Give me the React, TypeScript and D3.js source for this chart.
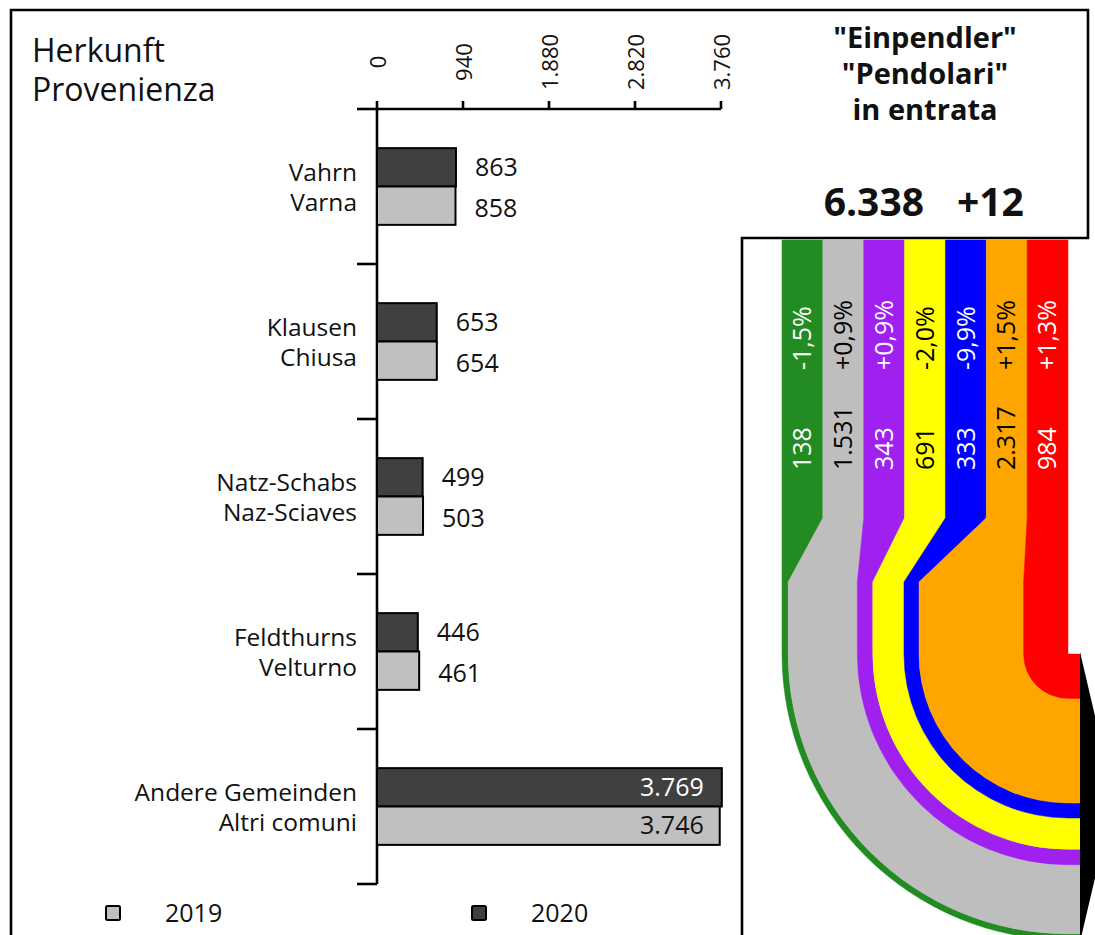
import React from "react";
import * as d3 from "d3";

// ---------- data ----------
const categoriesDE = ["Vahrn", "Klausen", "Natz-Schabs", "Feldthurns", "Andere Gemeinden"];
const categoriesIT = ["Varna", "Chiusa", "Naz-Sciaves", "Velturno", "Altri comuni"];
const values2020 = [863, 653, 499, 446, 3769];
const values2019 = [858, 654, 503, 461, 3746];
const axisTicks = [0, 940, 1880, 2820, 3760];

const flowKeys = ["g", "gr", "p", "y", "b", "o", "r"];
const flowValues = [138, 1531, 343, 691, 333, 2317, 984];
const flowPct = ["-1,5%", "+0,9%", "+0,9%", "-2,0%", "-9,9%", "+1,5%", "+1,3%"];
const flowColors = ["#228B22", "#BEBEBE", "#A020F0", "#FFFF00", "#0000FF", "#FFA500", "#FF0000"];
const flowTextColors = ["#fff", "#000", "#fff", "#000", "#fff", "#000", "#fff"];
const totalLabel = "6.338";
const changeLabel = "+12";

const locale = d3.formatLocale({ decimal: ",", thousands: ".", grouping: [3], currency: ["", "€"] });
const fmt = locale.format(",d");

const FONT = "'Open Sans', 'Noto Sans', sans-serif";

export default function App() {
  const W = 1095, H = 935;

  // left bar chart
  const x = d3.scaleLinear().domain([0, 3760]).range([377, 721]);
  const yBand = d3.scaleBand<number>().domain(d3.range(categoriesDE.length)).range([109, 884]);
  const sub = d3.scaleBand<string>().domain(["2020", "2019"]).range([0, yBand.bandwidth()]).paddingOuter(1.02);

  // flow
  const left = 782, right = 1068;
  const topBand = d3.scaleBand<string>().domain(flowKeys).range([left, right]);
  const total = d3.sum(flowValues);
  const k = d3.scaleLinear().domain([0, total]).range([left, right]);
  const cum = d3.cumsum(flowValues);
  const yTop = 240, yK1 = 518, yK2 = 582, yArc = 654, cx = right, xEnd = 1080;

  const flowPaths = flowValues.map((v, i) => {
    const x0 = k(cum[i] - v);
    const x1 = k(cum[i]);
    const t0 = topBand(flowKeys[i])!;
    const t1 = t0 + topBand.bandwidth();
    const rO = cx - x0;
    const rI = cx - x1;
    const p = d3.path();
    p.moveTo(t0, yTop);
    p.lineTo(t0, yK1);
    p.lineTo(x0, yK2);
    p.lineTo(x0, yArc);
    p.arc(cx, yArc, rO, Math.PI, Math.PI / 2, true);
    p.lineTo(xEnd, yArc + rO);
    p.lineTo(xEnd, yArc + rI);
    p.lineTo(cx, yArc + rI);
    if (rI > 0.01) p.arc(cx, yArc, rI, Math.PI / 2, Math.PI, false);
    p.lineTo(x1, yK2);
    p.lineTo(t1, yK1);
    p.lineTo(t1, yTop);
    p.closePath();
    return p.toString();
  });

  const arrowTop = yArc - 2;
  const arrowBot = yArc + (right - left) + 2;
  const arrow = d3.path();
  arrow.moveTo(xEnd, arrowTop);
  arrow.lineTo(xEnd + 34, (arrowTop + arrowBot) / 2);
  arrow.lineTo(xEnd, arrowBot);
  arrow.closePath();

  return (
    <svg width={W} height={H} style={{ position: "absolute", left: 0, top: 0, background: "#fff" }} fontFamily={FONT}>
      {/* flows */}
      {flowPaths.map((d, i) => (
        <path key={i} d={d} fill={flowColors[i]} stroke={flowColors[i]} strokeWidth={0.5} />
      ))}
      <path d={arrow.toString()} fill="#000" />
      {flowValues.map((v, i) => {
        const cxT = topBand(flowKeys[i])! + topBand.bandwidth() / 2;
        return (
          <g key={i} fill={flowTextColors[i]} fontSize={25}>
            <text transform={`translate(${cxT},370) rotate(-90)`} dy="0.35em">{flowPct[i]}</text>
            <text transform={`translate(${cxT},470) rotate(-90)`} dy="0.35em">{fmt(v)}</text>
          </g>
        );
      })}

      {/* frame */}
      <path d="M11,935 L11,10 L1088,10 L1088,238 L742,238 L742,935" fill="none" stroke="#000" strokeWidth={2.6} />

      {/* right title */}
      <g fontWeight="bold" fontSize={29} textAnchor="middle" fill="#111">
        <text x={925} y={48}>"Einpendler"</text>
        <text x={925} y={84}>"Pendolari"</text>
        <text x={925} y={120}>in entrata</text>
      </g>
      <g fontWeight="bold" fontSize={39} fill="#111">
        <text x={924} y={216} textAnchor="end">{totalLabel}</text>
        <text x={957} y={216} textAnchor="start">{changeLabel}</text>
      </g>

      {/* left title */}
      <g fontSize={32} fill="#111">
        <text x={32} y={62}>Herkunft</text>
        <text x={32} y={101}>Provenienza</text>
      </g>

      {/* top axis */}
      <line x1={x(0)} x2={x(3760)} y1={109} y2={109} stroke="#000" strokeWidth={2.6} />
      {axisTicks.map((t) => (
        <g key={t}>
          <line x1={x(t)} x2={x(t)} y1={101} y2={109} stroke="#000" strokeWidth={2.6} />
          <text transform={`translate(${x(t) + 1},62) rotate(-90)`} textAnchor="middle" dy="0.35em" fontSize={22} fill="#111">
            {fmt(t)}
          </text>
        </g>
      ))}

      {/* category axis */}
      <line x1={377} x2={377} y1={109} y2={884} stroke="#000" strokeWidth={2.6} />
      {d3.range(categoriesDE.length + 1).map((i) => {
        const yy = i < categoriesDE.length ? yBand(i)! : yBand.range()[1];
        return <line key={i} x1={357} x2={377} y1={yy} y2={yy} stroke="#000" strokeWidth={2.6} />;
      })}

      {/* bars */}
      {categoriesDE.map((c, i) => {
        const b = yBand(i)!;
        const y20 = b + sub("2020")!;
        const y19 = b + sub("2019")!;
        const bh = sub.bandwidth();
        const v20 = values2020[i], v19 = values2019[i];
        const inside = v20 > 3000;
        return (
          <g key={c}>
            <text x={357} y={b + yBand.bandwidth() / 2 - 6} textAnchor="end" fontSize={24.5} fill="#111">{c}</text>
            <text x={357} y={b + yBand.bandwidth() / 2 + 24} textAnchor="end" fontSize={24.5} fill="#111">{categoriesIT[i]}</text>
            <rect x={x(0)} y={y20} width={x(v20) - x(0)} height={bh} fill="#404040" stroke="#000" strokeWidth={2} />
            <rect x={x(0)} y={y19} width={x(v19) - x(0)} height={bh} fill="#C0C0C0" stroke="#000" strokeWidth={2} />
            {inside ? (
              <>
                <text x={x(v20) - 18} y={y20 + bh / 2} dy="0.35em" textAnchor="end" fontSize={25} fill="#fff">{fmt(v20)}</text>
                <text x={x(v19) - 16} y={y19 + bh / 2} dy="0.35em" textAnchor="end" fontSize={25} fill="#111">{fmt(v19)}</text>
              </>
            ) : (
              <>
                <text x={x(v20) + 19} y={y20 + bh / 2} dy="0.35em" fontSize={25} fill="#111">{fmt(v20)}</text>
                <text x={x(v19) + 19} y={y19 + bh / 2 + 3} dy="0.35em" fontSize={25} fill="#111">{fmt(v19)}</text>
              </>
            )}
          </g>
        );
      })}

      {/* legend */}
      <rect x={106} y={906} width={14} height={14} rx={1.5} fill="#C0C0C0" stroke="#000" strokeWidth={2} />
      <text x={165} y={922} fontSize={25} fill="#111">2019</text>
      <rect x={472} y={906} width={14} height={14} rx={1.5} fill="#404040" stroke="#000" strokeWidth={2} />
      <text x={531} y={922} fontSize={25} fill="#111">2020</text>
    </svg>
  );
}
